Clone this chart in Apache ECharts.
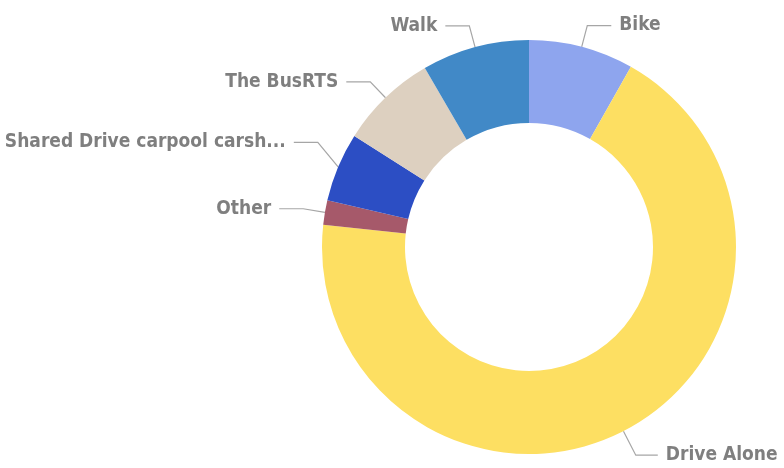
<!DOCTYPE html>
<html>
<head>
<meta charset="utf-8">
<script src="https://cdn.jsdelivr.net/npm/echarts@6/dist/echarts.min.js"></script>
<style>
html,body{margin:0;padding:0;background:#fff;}
#chart{width:784px;height:468px;}
</style>
</head>
<body>
<div id="chart"></div>
<script>
var categories = ["Bike", "Drive Alone", "Other", "Shared Drive carpool carsh...", "The BusRTS", "Walk"];
var values = [8.2, 68.6, 1.9, 5.4, 7.6, 8.4];
var colors = ["#8EA5EE", "#FDDF62", "#A6596A", "#2C4EC4", "#DDD0C0", "#4189C7"];

var chart = echarts.init(document.getElementById('chart'), null, {renderer: 'canvas'});
var data = categories.map(function (c, i) {
  var item = { name: c, value: values[i], itemStyle: { color: colors[i] } };
  if (c === 'Drive Alone') { item.labelLine = { length: 27, length2: 22 }; }
  return item;
});
var sharedShift = -16;
chart.setOption({
  animation: false,
  backgroundColor: '#ffffff',
  series: [{
    type: 'pie',
    center: [529, 247],
    radius: [124, 207],
    startAngle: 90,
    clockwise: true,
    avoidLabelOverlap: false,
    data: data,
    label: {
      show: true,
      position: 'outside',
      formatter: '{b}',
      color: '#7F7F7F',
      fontFamily: 'DejaVu Sans Condensed',
      fontWeight: 'bold',
      fontSize: 19,
      distanceToLabelLine: 8
    },
    labelLine: {
      show: true,
      length: 22,
      length2: 24,
      lineStyle: { color: '#A6A6A6', width: 1.2 }
    },
    labelLayout: function (params) {
      if (categories[params.dataIndex] === 'Shared Drive carpool carsh...') {
        var p = params.labelLinePoints;
        var out = { dy: sharedShift };
        if (p && p.length === 3) {
          out.labelLinePoints = [
            [p[0][0], p[0][1]],
            [p[1][0], p[1][1] + sharedShift],
            [p[2][0], p[2][1] + sharedShift]
          ];
        }
        return out;
      }
      return {};
    }
  }]
});
</script>
</body>
</html>
